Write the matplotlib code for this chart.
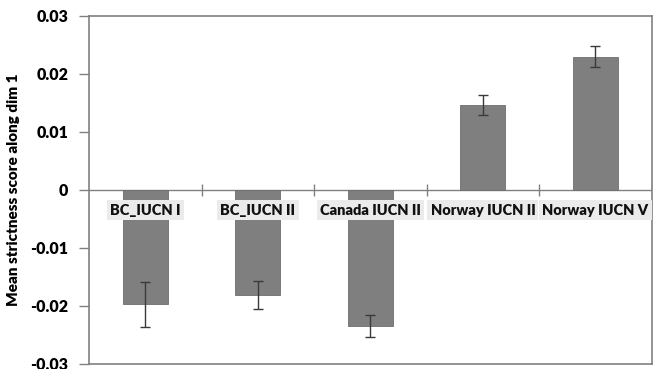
import numpy as np
import matplotlib.pyplot as plt

# data
categories = ['BC_IUCN I', 'BC_IUCN II', 'Canada IUCN II', 'Norway IUCN II', 'Norway IUCN V']
means = [-0.0197, -0.0181, -0.0235, 0.0146, 0.0229]
errors = [0.0039, 0.0024, 0.0019, 0.0017, 0.0018]

y_ticks = [-0.03, -0.02, -0.01, 0, 0.01, 0.02, 0.03]
y_tick_labels = ['-0.03', '-0.02', '-0.01', '0', '0.01', '0.02', '0.03']

GREY = '#808080'
FONT = ['Lato', 'DejaVu Sans']


def main():
    plt.rcParams['font.family'] = FONT
    fig = plt.figure(figsize=(6.59, 3.69), dpi=100)
    ax = fig.add_axes([0.135, 0.0136, 0.854, 0.944])

    x = np.arange(len(categories))
    ax.bar(x, means, width=0.4, color='#7f7f7f', edgecolor='#6e6e6e',
           linewidth=0.6, zorder=2)
    ax.errorbar(x, means, yerr=errors, fmt='none', ecolor='#3a3a3a',
                elinewidth=1.0, capsize=3.8, capthick=1.0, zorder=3)

    # zero line with category separators
    ax.axhline(0, color=GREY, lw=1.0, zorder=1)
    bounds = np.arange(len(categories) - 1) + 0.5
    ax.vlines(bounds, -0.001, 0.001, color=GREY, lw=1.0, zorder=1)

    # category labels sitting just under the zero line
    for i, name in enumerate(categories):
        ax.annotate(name, (x[i], 0), xytext=(0, -10), textcoords='offset points',
                    ha='center', va='top', fontsize=10.5, fontweight='heavy',
                    color='#111111', zorder=4,
                    bbox=dict(boxstyle='square,pad=0.22', fc='#ebebeb', ec='none'))

    ax.set_xlim(-0.5, len(categories) - 0.5)
    ax.set_ylim(-0.03, 0.03)
    ax.set_xticks([])
    ax.set_yticks(y_ticks)
    ax.set_yticklabels(y_tick_labels, fontsize=11.5, fontweight='heavy')
    ax.tick_params(axis='y', direction='out', length=7, width=1, color=GREY, pad=8)
    for s in ax.spines.values():
        s.set_color(GREY)
        s.set_linewidth(1.2)

    ax.set_ylabel('Mean strictness score along dim 1', fontsize=11,
                  fontweight='heavy', labelpad=7)

    fig.savefig('out.png', dpi=100)


if __name__ == '__main__':
    main()
